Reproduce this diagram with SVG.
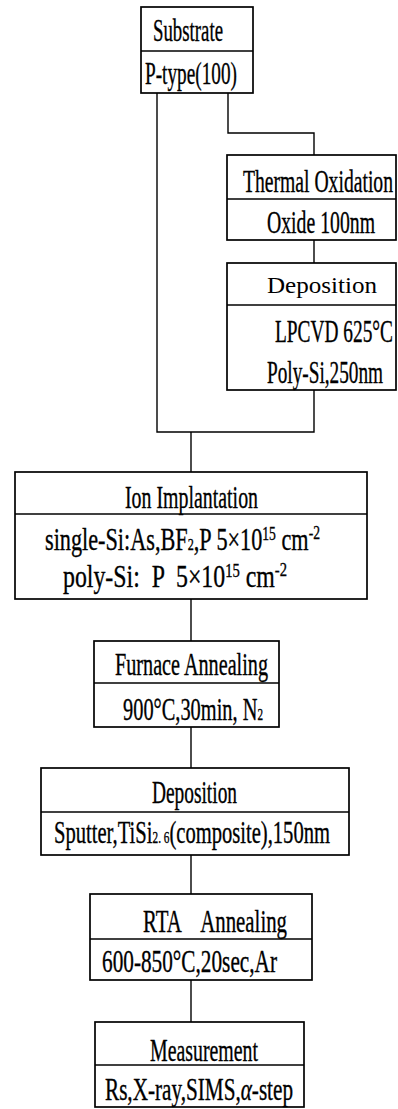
<svg xmlns="http://www.w3.org/2000/svg" width="398" height="1109" viewBox="0 0 398 1109">
<style>
.box{fill:none;stroke:#000;stroke-width:1.7}
.div{stroke:#000;stroke-width:1.5}
.con{fill:none;stroke:#000;stroke-width:1.4}
text{font-family:"Liberation Serif","Times New Roman",serif;font-size:31px;fill:#000;stroke:#000;stroke-width:0.35;white-space:pre}
.light{font-size:24px;stroke-width:0}
.sm{font-size:17px}
.sup{font-size:19px}
</style>
<rect width="398" height="1109" fill="#fff"/>
<g id="connectors">
<path class="con" d="M157,93 V432 H314 V390"/>
<path class="con" d="M228,93 V133 H314 V155"/>
<path class="con" d="M314,240 V263"/>
<path class="con" d="M191,432 V472"/>
<path class="con" d="M191,599 V641"/>
<path class="con" d="M191,727 V768"/>
<path class="con" d="M191,855 V894"/>
<path class="con" d="M191,980 V1022"/>
</g>
<g id="substrate">
<rect class="box" x="141" y="7" width="112" height="86"/>
<line class="div" x1="141" y1="51" x2="253" y2="51"/>
<text x="153" y="41" textLength="70" lengthAdjust="spacingAndGlyphs">Substrate</text>
<text x="145" y="84" textLength="92" lengthAdjust="spacingAndGlyphs">P-type(100)</text>
</g>
<g id="thermal-oxidation">
<rect class="box" x="227" y="155" width="169" height="85"/>
<line class="div" x1="227" y1="199" x2="396" y2="199"/>
<text x="243" y="192" textLength="150" lengthAdjust="spacingAndGlyphs">Thermal Oxidation</text>
<text x="267" y="233" textLength="108" lengthAdjust="spacingAndGlyphs">Oxide 100nm</text>
</g>
<g id="deposition-poly">
<rect class="box" x="227" y="263" width="169" height="127"/>
<line class="div" x1="227" y1="305" x2="396" y2="305"/>
<text class="light" x="267" y="293" textLength="110" lengthAdjust="spacingAndGlyphs">Deposition</text>
<text x="275" y="342" textLength="118" lengthAdjust="spacingAndGlyphs">LPCVD 625°C</text>
<text x="267" y="383" textLength="116" lengthAdjust="spacingAndGlyphs">Poly-Si,250nm</text>
</g>
<g id="ion-implantation">
<rect class="box" x="15" y="472" width="352" height="127"/>
<line class="div" x1="15" y1="514" x2="367" y2="514"/>
<text x="125" y="508" textLength="133" lengthAdjust="spacingAndGlyphs">Ion Implantation</text>
<text x="45" y="550" textLength="275" lengthAdjust="spacingAndGlyphs">single-Si:As,BF<tspan class="sm">2</tspan>,P 5×10<tspan class="sup" dy="-10">15</tspan><tspan dy="10"> cm</tspan><tspan class="sup" dy="-11">-2</tspan></text>
<text x="63" y="587" textLength="224" lengthAdjust="spacingAndGlyphs">poly-Si:  P  5×10<tspan class="sup" dy="-10">15</tspan><tspan dy="10"> cm</tspan><tspan class="sup" dy="-11">-2</tspan></text>
</g>
<g id="furnace-annealing">
<rect class="box" x="94" y="641" width="185" height="86"/>
<line class="div" x1="94" y1="683" x2="279" y2="683"/>
<text x="115" y="675" textLength="153" lengthAdjust="spacingAndGlyphs">Furnace Annealing</text>
<text x="123" y="720" textLength="140" lengthAdjust="spacingAndGlyphs">900°C,30min, N<tspan class="sm">2</tspan></text>
</g>
<g id="deposition-sputter">
<rect class="box" x="41" y="768" width="308" height="87"/>
<line class="div" x1="41" y1="812" x2="349" y2="812"/>
<text x="152" y="803" textLength="85" lengthAdjust="spacingAndGlyphs">Deposition</text>
<text x="54" y="843" textLength="276" lengthAdjust="spacingAndGlyphs">Sputter,TiSi<tspan class="sm">2. 6</tspan>(composite),150nm</text>
</g>
<g id="rta-annealing">
<rect class="box" x="90" y="894" width="222" height="86"/>
<line class="div" x1="90" y1="939" x2="312" y2="939"/>
<text x="143" y="932" textLength="144" lengthAdjust="spacingAndGlyphs">RTA    Annealing</text>
<text x="102" y="972" textLength="175" lengthAdjust="spacingAndGlyphs">600-850°C,20sec,Ar</text>
</g>
<g id="measurement">
<rect class="box" x="95" y="1022" width="209" height="85"/>
<line class="div" x1="95" y1="1065" x2="304" y2="1065"/>
<text x="150" y="1061" textLength="108" lengthAdjust="spacingAndGlyphs">Measurement</text>
<text x="105" y="1100" textLength="188" lengthAdjust="spacingAndGlyphs">Rs,X-ray,SIMS,<tspan font-style="italic">α</tspan>-step</text>
</g>
</svg>
